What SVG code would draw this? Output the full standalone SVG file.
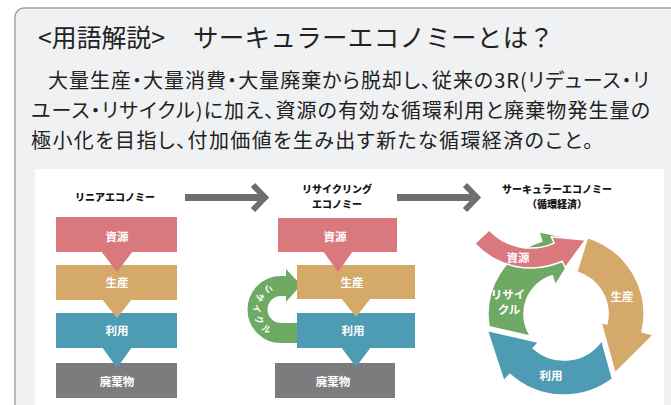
<svg xmlns="http://www.w3.org/2000/svg" width="671" height="405" viewBox="0 0 671 405">
<defs>
<style>
.jp{font-family:"Noto Sans CJK JP","Noto Sans",sans-serif}
.ttl{font-size:25.5px;fill:#222}
.body{font-size:20px;fill:#222;font-feature-settings:"palt"}
.hd{font-size:10px;font-weight:900;fill:#151515;text-anchor:middle}
.lb{font-size:11.5px;font-weight:bold;fill:#fff;text-anchor:middle}
.pink{fill:#d9797e}.tan{fill:#d5a96a}.teal{fill:#4e9cb3}.gray{fill:#7c7b7d}.green{fill:#6faa65}
.flow{stroke:#6e6e6e;stroke-width:7;fill:none}
.chev{stroke:#6e6e6e;stroke-width:6;fill:none;stroke-linejoin:miter}
.ring{stroke:#fff;stroke-width:1.5;stroke-linejoin:round}
</style>
<path id="rcPath" d="M287 286 L281 286 A23.5 23.5 0 0 0 281 333 L297 333"/>
</defs>
<rect width="671" height="405" fill="#fff"/>
<g id="card">
<rect x="15" y="8" width="700" height="430" rx="9" fill="#f0f1f3" stroke="#a3a3a3" stroke-width="1.5"/>
<text class="jp ttl" x="38" y="47" textLength="127" lengthAdjust="spacingAndGlyphs">&lt;用語解説&gt;</text>
<text class="jp ttl" x="193" y="47" textLength="361">サーキュラーエコノミーとは？</text>
<text class="jp body" x="48" y="88" textLength="601">大量生産・大量消費・大量廃棄から脱却し、従来の3R(リデュース・リ</text>
<text class="jp body" x="31" y="118" textLength="619">ユース・リサイクル)に加え、資源の有効な循環利用と廃棄物発生量の</text>
<text class="jp body" x="31" y="148" textLength="562">極小化を目指し、付加価値を生み出す新たな循環経済のこと。</text>
<rect x="35" y="169" width="629" height="240" fill="#fff"/>
</g>
<g id="connectors">
<path class="flow" d="M185 197.5H265"/>
<polyline class="chev" points="253,185 265,197.5 253,210"/>
<path class="flow" d="M397 197.5H477"/>
<polyline class="chev" points="465,185 477,197.5 465,210"/>
</g>
<g id="linear">
<text class="jp hd" x="115" y="201" font-size="10.5">リニアエコノミー</text>
<rect class="pink" x="56" y="217" width="121" height="35"/>
<rect class="tan" x="56" y="265" width="121" height="35"/>
<rect class="teal" x="56" y="313" width="121" height="35"/>
<rect class="gray" x="56" y="363" width="121" height="35"/>
<polygon class="pink" points="101,251 133,251 117,272"/>
<polygon class="tan" points="102,299 132,299 117,318"/>
<polygon class="teal" points="102,347 132,347 117,368"/>
<text class="jp lb" x="117" y="241">資源</text>
<text class="jp lb" x="117" y="287">生産</text>
<text class="jp lb" x="117" y="335">利用</text>
<text class="jp lb" x="117" y="386">廃棄物</text>
</g>
<g id="recycling">
<text class="jp hd" x="337" y="193">リサイクリング</text>
<text class="jp hd" x="337" y="208">エコノミー</text>
<path d="M297 333 L281 333 A23.5 23.5 0 0 1 281 286 L287 286" fill="none" stroke="#6faa65" stroke-width="20"/>
<polygon class="green" points="286,269 301,285 286,302"/>
<text class="jp" font-size="9" fill="#fff" font-weight="bold" letter-spacing="2.5" dominant-baseline="central"><textPath href="#rcPath" startOffset="45%" text-anchor="middle">リサイクル</textPath></text>
<rect class="pink" x="278" y="218" width="119" height="34"/>
<rect class="tan" x="297" y="265" width="118" height="34"/>
<rect class="teal" x="297" y="313" width="118" height="35"/>
<rect class="gray" x="275" y="363" width="120" height="35"/>
<polygon class="pink" points="323,251 353,251 338,272"/>
<polygon class="tan" points="341,298 371,298 356,317"/>
<polygon class="teal" points="341,347 371,347 356,367"/>
<text class="jp lb" x="335" y="241">資源</text>
<text class="jp lb" x="352" y="287">生産</text>
<text class="jp lb" x="353" y="335">利用</text>
<text class="jp lb" x="333" y="386">廃棄物</text>
</g>
<g id="circular">
<text class="jp hd" x="557" y="193">サーキュラーエコノミー</text>
<text class="jp hd" x="557" y="208">（循環経済）</text>
<path class="ring tan" d="M576.9 271.9 L587.4 237.5 A80 80 0 0 1 642.0 332.0 L653.6 334.7 L615 373 L601.0 322.5 L606.9 323.9 A44 44 0 0 0 576.9 271.9 Z"/>
<path class="ring teal" d="M601.8 340.3 L612.5 378.9 A81 81 0 0 1 509.8 374.2 L503.8 380.9 L487.3 330.4 L538.6 342.2 L533.2 348.2 A46 46 0 0 0 601.8 340.3 Z"/>
<path class="ring green" d="M530.8 336.3 L489.1 326.7 A76 76 0 0 1 541.8 241.3 L538.9 231.8 L583 241 L555.2 285.3 L552.3 275.7 A40 40 0 0 0 530.8 336.3 Z"/>
<path class="ring pink" d="M489.3 229.9 A57 57 0 0 0 554.2 243.1 L551.3 236.7 L585.6 240 L565.2 267.7 L562.3 261.3 A77 77 0 0 1 474.7 243.5 Z"/>
<text class="jp lb" x="518" y="262" font-size="11">資源</text>
<text class="jp lb" x="508" y="299" font-size="11">リサイ</text>
<text class="jp lb" x="509" y="314" font-size="11">クル</text>
<text class="jp lb" x="622" y="301" font-size="12">生産</text>
<text class="jp lb" x="551" y="380" font-size="12">利用</text>
</g>
</svg>
